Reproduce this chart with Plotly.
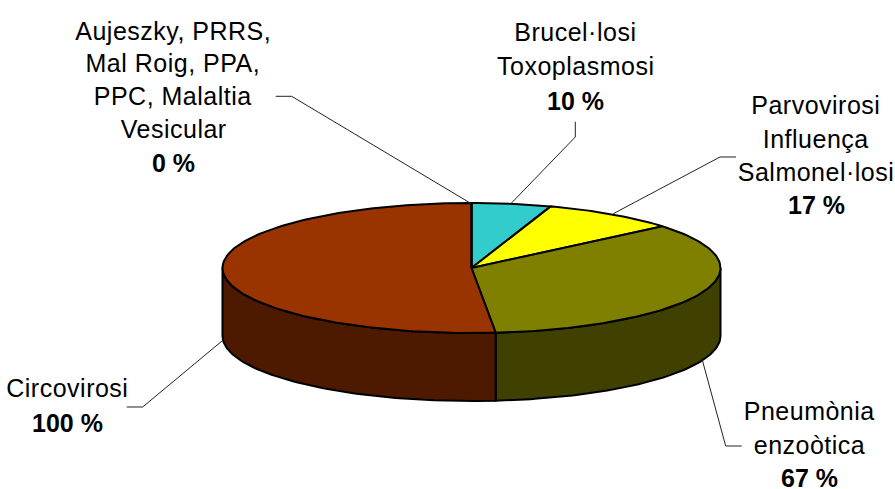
import numpy as np
import plotly.graph_objects as go

W, H = 895, 489
# data
values = [10, 17, 67, 100, 0]
top_colors = ["#33CCCC", "#FFFF00", "#808000", "#993300", "#FF6600"]
side_colors = ["#1A6666", "#808000", "#404000", "#4D1A00", "#803300"]
label_lines = [
    ["Brucel·losi", "Toxoplasmosi"],
    ["Parvovirosi", "Influença", "Salmonel·losi"],
    ["Pneumònia", "enzoòtica"],
    ["Circovirosi"],
    ["Aujeszky, PRRS,", "Mal Roig, PPA,", "PPC, Malaltia", "Vesicular"],
]
percent_labels = ["10 %", "17 %", "67 %", "100 %", "0 %"]

# layout of the label blocks (pixels): centre x, y of each line
label_x = [575, 816, 809, 67, 173]
label_y = [[32, 66, 101], [105, 139, 172, 205], [411, 445, 478], [388, 423], [31, 63, 96, 129, 163]]
leaders = [
    [(575.3, 121.7), (575.3, 137), (511, 203.5)],
    [(736, 157), (720, 157), (613.3, 213.7)],
    [(741.7, 446), (725.7, 446), (702.3, 360)],
    [(126.7, 407), (142.7, 407), (222, 341)],
    [(275.7, 96.3), (291.7, 96.3), (471, 203.5)],
]

# pie geometry in pixels, mapped to the unit disc by the axis ranges
CX, CY, RX, RY, DEPTH = 471.5, 268, 249, 65, 68
depth = DEPTH / RY

frac = np.cumsum([0] + values) / sum(values) * 2 * np.pi


def arc(a, b):
    n = max(2, int(abs(b - a) / (2 * np.pi) * 360))
    t = np.linspace(a, b, n)
    return np.sin(t), np.cos(t)


fig = go.Figure()
# side walls (visible front half of the ellipse: clockwise 90 to 270 degrees)
for i, v in enumerate(values):
    a, b = max(frac[i], np.pi / 2), min(frac[i + 1], 3 * np.pi / 2)
    if b <= a:
        continue
    x, y = arc(a, b)
    fig.add_trace(go.Scatter(
        x=np.r_[x, x[::-1], x[0]], y=np.r_[y, y[::-1] - depth, y[0]],
        mode="lines", fill="toself", fillcolor=side_colors[i],
        line=dict(color="black", width=2), hoverinfo="skip", showlegend=False))
# top faces
for i, v in enumerate(values):
    x, y = arc(frac[i], frac[i + 1])
    fig.add_trace(go.Scatter(
        x=np.r_[0, x, 0], y=np.r_[0, y, 0],
        mode="lines", fill="toself", fillcolor=top_colors[i],
        line=dict(color="black", width=2), hoverinfo="skip", showlegend=False))

FONT = "Liberation Sans"
for i, lines in enumerate(label_lines):
    for j, txt in enumerate(lines + [percent_labels[i]]):
        bold = j == len(lines)
        fig.add_annotation(
            x=label_x[i] / W, y=1 - label_y[i][j] / H, xref="paper", yref="paper",
            text=f"<b>{txt}</b>" if bold else txt, showarrow=False,
            xanchor="center", yanchor="middle",
            font=dict(family=FONT, size=25, color="black"))
    pts = leaders[i]
    path = "M " + " L ".join(f"{px / W:.5f},{1 - py / H:.5f}" for px, py in pts)
    fig.add_shape(type="path", path=path, xref="paper", yref="paper",
                  line=dict(color="#222222", width=1))

fig.update_layout(
    width=W, height=H, margin=dict(l=0, r=0, t=0, b=0),
    paper_bgcolor="white", plot_bgcolor="white", showlegend=False,
    xaxis=dict(visible=False, range=[-CX / RX, (W - CX) / RX]),
    yaxis=dict(visible=False, range=[(CY - H) / RY, CY / RY]),
)
fig.write_html("out.html", config={"displayModeBar": False},
               post_script=("document.body.style.margin='0';"
                            "document.documentElement.style.overflow='hidden';"
                            "document.querySelectorAll('.annotation-text').forEach(function(t){"
                            "if(!t.querySelector('[style*=\"bold\"]')){t.style.letterSpacing='0.5px';}});"))
